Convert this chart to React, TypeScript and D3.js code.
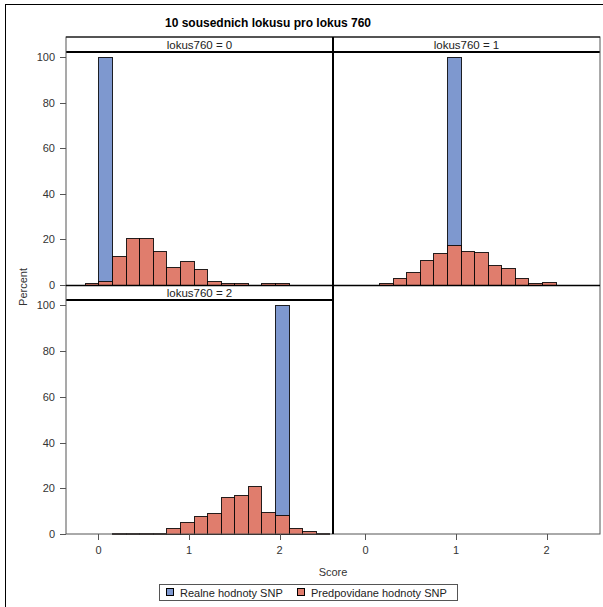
import React from "react";
import * as d3 from "d3";

const TITLE = "10 sousednich lokusu pro lokus 760";
const PANEL_LABELS = ["lokus760 = 0", "lokus760 = 1", "lokus760 = 2"];
const SERIES_NAMES = ["Realne hodnoty SNP", "Predpovidane hodnoty SNP"];
const X_LABEL = "Score";
const Y_LABEL = "Percent";
const X_TICKS = [0, 1, 2];
const Y_TICKS = [0, 20, 40, 60, 80, 100];
const BIN_WIDTH = 0.15;
const BIN_STARTS = [-0.15, 0, 0.15, 0.3, 0.45, 0.6, 0.75, 0.9, 1.05, 1.2, 1.35, 1.5, 1.65, 1.8, 1.95, 2.1, 2.25, 2.4];

const REAL_0 = [0, 100, 0, 0, 0, 0, 0, 0, 0, 0, 0, 0, 0, 0, 0, 0, 0, 0];
const PRED_0 = [0.8, 1.9, 12.6, 20.7, 20.7, 14.8, 8.0, 10.4, 7.2, 1.9, 0.8, 0.8, 0, 0.8, 0.8, 0, 0, 0];
const REAL_1 = [0, 0, 0, 0, 0, 0, 0, 100, 0, 0, 0, 0, 0, 0, 0, 0, 0, 0];
const PRED_1 = [0, 0, 1.0, 3.1, 5.6, 11.0, 13.9, 17.4, 14.8, 14.3, 8.6, 7.6, 3.1, 0.8, 1.2, 0, 0, 0];
const REAL_2 = [0, 0, 0, 0, 0, 0, 0, 0, 0, 0, 0, 0, 0, 0, 100, 0, 0, 0];
const PRED_2 = [0, 0, 0.6, 0.6, 0.6, 0.6, 2.6, 5.1, 7.7, 9.3, 16.0, 16.9, 20.8, 9.7, 8.1, 2.5, 1.2, 0.6];

const REAL_SERIES = [REAL_0, REAL_1, REAL_2];
const PRED_SERIES = [PRED_0, PRED_1, PRED_2];

const BLUE = "#7E98CF";
const RED = "#E07D6D";
const FONT = "'Liberation Sans', Arial, sans-serif";

const COLS = [
  { left: 66, right: 333 },
  { left: 333, right: 600 },
];
const ROWS = [
  { top: 37, header: 52, bottom: 285 },
  { top: 285, header: 300, bottom: 534 },
];
const X_DOMAIN = [-0.359, 2.591];
const Y_DOMAIN = [0, 102.3];

function Panel({ idx }: { idx: number }) {
  const col = COLS[idx % 2];
  const row = ROWS[Math.floor(idx / 2)];
  const x = d3.scaleLinear().domain(X_DOMAIN).range([col.left, col.right]);
  const y = d3.scaleLinear().domain(Y_DOMAIN).range([row.bottom, row.header]);
  const real = REAL_SERIES[idx];
  const pred = PRED_SERIES[idx];
  const bar = (v: number, i: number, fill: string, key: string) => {
    if (!v) return null;
    const x0 = Math.round(x(BIN_STARTS[i])) + 0.5;
    const x1 = Math.round(x(BIN_STARTS[i] + BIN_WIDTH)) + 0.5;
    const y0 = Math.round(y(v)) + 0.5;
    const yb = Math.round(y(0)) + 0.5;
    return (
      <rect key={key} x={x0} y={y0} width={x1 - x0} height={Math.max(yb - y0, 0.5)}
        fill={fill} stroke="#000" strokeOpacity={0.85} strokeWidth={1} />
    );
  };
  return (
    <g>
      {real.map((v, i) => bar(v, i, BLUE, "r" + i))}
      {pred.map((v, i) => bar(v, i, RED, "p" + i))}
      <line x1={col.left} x2={col.right} y1={row.header} y2={row.header} stroke="#000" strokeWidth={2} />
      <text x={(col.left + col.right) / 2} y={row.top + 11.5} textAnchor="middle" fontSize={11.5} fill="#222" fontFamily={FONT}>
        {PANEL_LABELS[idx]}
      </text>
    </g>
  );
}

export default function App() {
  const xs = COLS.map((c) => d3.scaleLinear().domain(X_DOMAIN).range([c.left, c.right]));
  const ys = ROWS.map((r) => d3.scaleLinear().domain(Y_DOMAIN).range([r.bottom, r.header]));
  return (
    <svg width={603} height={607} style={{ position: "absolute", left: 0, top: 0, background: "#fff" }} fontFamily={FONT}>
      <rect x={0} y={0} width={603} height={607} fill="#fff" />
      <rect x={5.5} y={4.5} width={620} height={620} fill="none" stroke="#000" strokeWidth={1} />
      <text x={268} y={26.5} textAnchor="middle" fontSize={12} fontWeight="bold" fill="#000">{TITLE}</text>

      {[0, 1, 2].map((i) => <Panel key={i} idx={i} />)}

      {/* outer frame */}
      <rect x={66} y={37} width={534} height={497} fill="none" stroke="#555" strokeWidth={1} />
      {/* dividers */}
      <line x1={333} x2={333} y1={37} y2={534} stroke="#000" strokeWidth={2} />
      <line x1={66} x2={600} y1={285.5} y2={285.5} stroke="#000" strokeWidth={1.5} />
      <line x1={66} x2={600} y1={37} y2={37} stroke="#000" strokeWidth={1} />

      {/* y axes */}
      {ys.map((y, r) => (
        <g key={"ya" + r}>
          {Y_TICKS.map((t) => (
            <g key={t}>
              <line x1={60} x2={66} y1={Math.round(y(t)) + 0.5} y2={Math.round(y(t)) + 0.5} stroke="#555" />
              <text x={55} y={y(t) + 4} textAnchor="end" fontSize={11} fill="#333">{t}</text>
            </g>
          ))}
        </g>
      ))}
      <text transform={`translate(27,287) rotate(-90)`} textAnchor="middle" fontSize={11} fill="#333">{Y_LABEL}</text>

      {/* x axes */}
      {xs.map((x, c) => (
        <g key={"xa" + c}>
          {X_TICKS.map((t) => (
            <g key={t}>
              <line x1={Math.round(x(t)) + 0.5} x2={Math.round(x(t)) + 0.5} y1={534} y2={540} stroke="#555" />
              <text x={x(t)} y={554} textAnchor="middle" fontSize={11} fill="#333">{t}</text>
            </g>
          ))}
        </g>
      ))}
      <text x={333} y={576} textAnchor="middle" fontSize={11} fill="#333">{X_LABEL}</text>

      {/* legend */}
      <rect x={159.5} y={584.5} width={298} height={16} fill="#fff" stroke="#555" />
      <rect x={166.5} y={588.5} width={7} height={7} fill={BLUE} stroke="#000" />
      <text x={180} y={596.5} fontSize={11} fill="#222">{SERIES_NAMES[0]}</text>
      <rect x={297.5} y={588.5} width={7} height={7} fill={RED} stroke="#000" />
      <text x={311} y={596.5} fontSize={11} fill="#222">{SERIES_NAMES[1]}</text>
    </svg>
  );
}
